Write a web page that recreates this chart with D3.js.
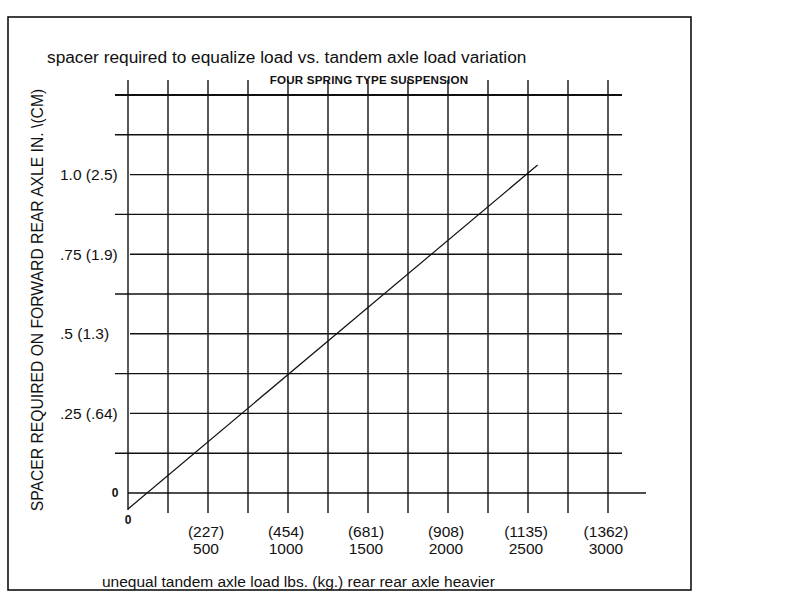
<!DOCTYPE html>
<html><head><meta charset="utf-8">
<script src="https://cdn.jsdelivr.net/npm/d3@7"></script>
<style>
html,body{margin:0;padding:0;background:#fff;}
text{font-family:"Liberation Sans",Arial,Helvetica,sans-serif;fill:#111;}
</style></head>
<body>
<svg id="chart" width="800" height="604"></svg>
<script>
// ---- data ----
const title = "spacer required to equalize load vs. tandem axle load variation";
const subtitle = "FOUR SPRING TYPE SUSPENSION";
const yTitle = "SPACER REQUIRED ON FORWARD REAR AXLE IN. \\(CM)";
const xTitle = "unequal tandem axle load lbs. (kg.) rear rear axle heavier";
const xGridValues = [0,250,500,750,1000,1250,1500,1750,2000,2250,2500,2750,3000];
const yGridValues = [0,0.125,0.25,0.375,0.5,0.625,0.75,0.875,1.0,1.125,1.25];
const yTickValues = [1.0, 0.75, 0.5, 0.25];
const yTickLabels = ["1.0 (2.5)", ".75 (1.9)", ".5 (1.3)", ".25 (.64)"];
const xTickValues = [500,1000,1500,2000,2500,3000];
const xTickKg = ["(227)","(454)","(681)","(908)","(1135)","(1362)"];
const xTickLbs = ["500","1000","1500","2000","2500","3000"];
const lineLoad = [0, 2560];
const lineSpacer = [-0.05, 1.03];

// ---- scales ----
const svg = d3.select("#chart");
const x = d3.scaleLinear().domain([0,3000]).range([128,608]);
const y = d3.scaleLinear().domain([0,1.25]).range([493,95]);

// frame
svg.append("rect").attr("x",8).attr("y",17).attr("width",683).attr("height",573)
  .attr("fill","none").attr("stroke","#111").attr("stroke-width",1.6);

// horizontal grid
const labeled = new Set(yTickValues);
svg.append("g").selectAll("line").data(yGridValues).join("line")
  .attr("x1", d => d===0 ? x(0) : (labeled.has(d) ? 130 : 115))
  .attr("x2", d => d===0 ? 646 : 622)
  .attr("y1", d => y(d)).attr("y2", d => y(d))
  .attr("stroke","#111")
  .attr("stroke-width", d => d===1.25 ? 2 : 1.4);

// vertical grid
svg.append("g").selectAll("line").data(xGridValues).join("line")
  .attr("x1", d => x(d)).attr("x2", d => x(d))
  .attr("y1", 80)
  .attr("y2", d => d===0 ? 510 : 513)
  .attr("stroke","#111").attr("stroke-width",1.4);

// data line
const pts = lineLoad.map((v,i)=>[v,lineSpacer[i]]);
svg.append("path").datum(pts)
  .attr("d", d3.line().x(d=>x(d[0])).y(d=>y(d[1])))
  .attr("fill","none").attr("stroke","#111").attr("stroke-width",1.2);

// y tick labels
svg.append("g").selectAll("text").data(yTickValues).join("text")
  .attr("x",60).attr("y", d => y(d)).attr("dy","0.36em")
  .attr("font-size",15.5)
  .text((d,i)=>yTickLabels[i]);
svg.append("text").attr("x",115).attr("y",y(0)).attr("dy","0.36em")
  .attr("text-anchor","middle").attr("font-size",12).attr("font-weight","bold").text("0");
svg.append("text").attr("x",x(0)).attr("y",524)
  .attr("text-anchor","middle").attr("font-size",12).attr("font-weight","bold").text("0");

// x tick labels
const xl = svg.append("g").selectAll("g").data(xTickValues).join("g");
xl.append("text").attr("x",d=>x(d)-2).attr("y",537).attr("text-anchor","middle")
  .attr("font-size",15.5).text((d,i)=>xTickKg[i]);
xl.append("text").attr("x",d=>x(d)-2).attr("y",554).attr("text-anchor","middle")
  .attr("font-size",15.5).text((d,i)=>xTickLbs[i]);

// titles
svg.append("text").attr("x",47).attr("y",63).attr("font-size",17.3).text(title);
svg.append("text").attr("x",369).attr("y",84).attr("text-anchor","middle")
  .attr("font-size",11.6).attr("font-weight",900).attr("letter-spacing",0.2).text(subtitle);
svg.append("text").attr("transform","translate(43,300) rotate(-90)")
  .attr("text-anchor","middle").attr("font-size",15.7).text(yTitle);
svg.append("text").attr("x",102).attr("y",587).attr("font-size",15.5).text(xTitle);
</script>
</body></html>
